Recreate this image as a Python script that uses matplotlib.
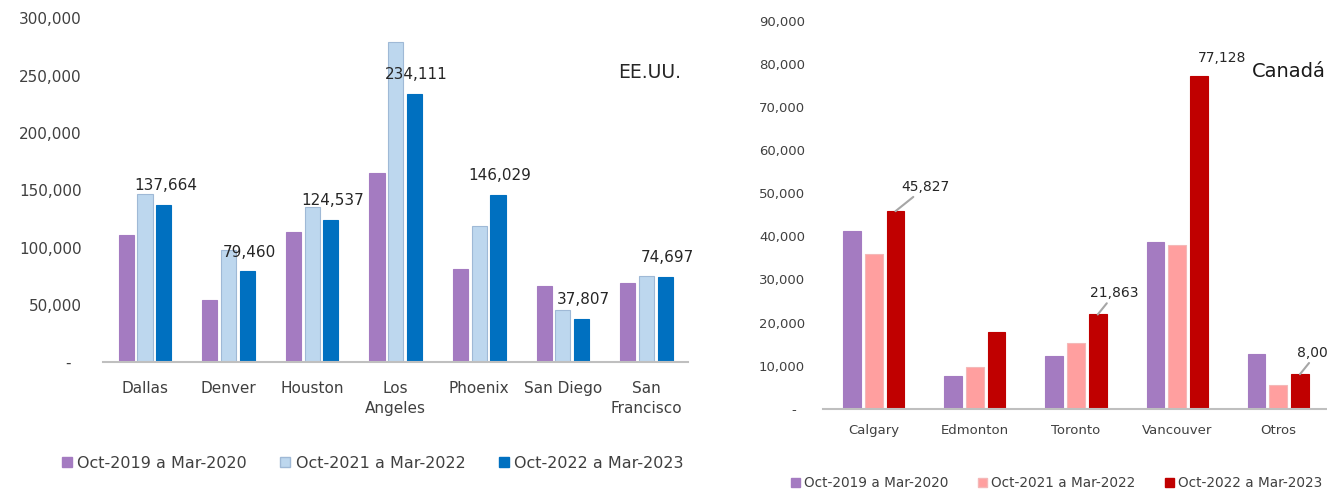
import matplotlib.pyplot as plt
import matplotlib.patches as mpatches
from matplotlib.ticker import FuncFormatter
import numpy as np

plt.rcParams['font.family'] = ['DejaVu Sans']

series = ['Oct-2019 a Mar-2020', 'Oct-2021 a Mar-2022', 'Oct-2022 a Mar-2023']

# EE.UU.
us_cities = ['Dallas', 'Denver', 'Houston', 'Los\nAngeles', 'Phoenix', 'San Diego', 'San\nFrancisco']
us_2019 = [111000, 54500, 113500, 165000, 81000, 67000, 69000]
us_2021 = [147000, 98000, 135500, 279500, 118500, 45500, 75300]
us_2022 = [137664, 79460, 124537, 234111, 146029, 37807, 74697]

# Canadá
ca_cities = ['Calgary', 'Edmonton', 'Toronto', 'Vancouver', 'Otros']
ca_2019 = [41300, 7700, 12200, 38700, 12800]
ca_2021 = [35900, 9700, 15300, 38000, 5500]
ca_2022 = [45827, 17900, 21863, 77128, 8003]

us_colors = ['#A47BC1', '#BDD7EE', '#0070C0']
ca_colors = ['#A47BC1', '#FF9F9F', '#C00000']
edge_us = ['#A47BC1', '#9FB9D6', '#0070C0']
edge_ca = ['#A47BC1', '#F4B8B8', '#C00000']

W, H = 1327, 490
fig = plt.figure(figsize=(W / 100, H / 100), dpi=100)


def fmt(v, p):
    return '-  ' if v == 0 else f'{v:,.0f}'


def style_axis(ax, tick_fs, ypad, xpad):
    for s in ['top', 'right', 'left']:
        ax.spines[s].set_visible(False)
    ax.spines['bottom'].set_color('#BFBFBF')
    ax.spines['bottom'].set_linewidth(1.5)
    ax.tick_params(axis='both', length=0, labelsize=tick_fs)
    ax.tick_params(axis='y', pad=ypad, labelcolor='#404040')
    ax.tick_params(axis='x', pad=xpad, labelcolor='#404040')
    ax.yaxis.set_major_formatter(FuncFormatter(fmt))


# ---- panel izquierdo: EE.UU.
ax1 = fig.add_axes([103.2 / W, 1 - 362.3 / H, (688.2 - 103.2) / W, (362.3 - 18.5) / H])
x = np.arange(len(us_cities))
step, bw = 0.224, 0.18
for i, vals in enumerate([us_2019, us_2021, us_2022]):
    ax1.bar(x + (i - 1) * step, vals, bw, color=us_colors[i], edgecolor=edge_us[i],
            linewidth=0.8, label=series[i])
ax1.set_xlim(-0.5, len(us_cities) - 0.5)
ax1.set_ylim(0, 300000)
ax1.set_yticks(np.arange(0, 300001, 50000))
ax1.set_xticks(x)
ax1.set_xticklabels(us_cities)
style_axis(ax1, 11, 15.5, 13.5)
for lab in ax1.get_xticklabels():
    lab.set_linespacing(1.45)

for xi, v in zip(x, us_2022):
    ax1.annotate(f'{v:,}', (xi + step, v), xytext=(1.4, 13.7), textcoords='offset points',
                 ha='center', va='center', fontsize=11, color='#262626')

fig.text(650 / W, 1 - 72 / H, 'EE.UU.', ha='center', va='center', fontsize=13.5, color='#262626')

h1 = [mpatches.Patch(facecolor=us_colors[i], edgecolor=edge_us[i], label=series[i]) for i in range(3)]
ax1.legend(handles=h1, ncol=3, loc='center left', bbox_to_anchor=(62 / W, 1 - 463 / H),
           bbox_transform=fig.transFigure, frameon=False, fontsize=11.5,
           handlelength=0.6, handleheight=0.6, handletextpad=0.35, columnspacing=2.1,
           borderpad=0, borderaxespad=0, labelcolor='#404040')

# ---- panel derecho: Canadá
ax2 = fig.add_axes([823.2 / W, 1 - 408.7 / H, (1328.8 - 823.2) / W, (408.7 - 20.8) / H])
x2 = np.arange(len(ca_cities))
step2, bw2 = 0.215, 0.175
for i, vals in enumerate([ca_2019, ca_2021, ca_2022]):
    ax2.bar(x2 + (i - 1) * step2, vals, bw2, color=ca_colors[i], edgecolor=edge_ca[i],
            linewidth=0.8, label=series[i])
ax2.set_xlim(-0.5, len(ca_cities) - 0.5)
ax2.set_ylim(0, 90000)
ax2.set_yticks(np.arange(0, 90001, 10000))
ax2.set_xticks(x2)
ax2.set_xticklabels(ca_cities)
style_axis(ax2, 9.5, 13, 10.8)

# offsets de etiquetas (puntos) y si llevan línea guía
offs = [(21.6, 17.3, True), None, (12.2, 15.1, True), (16.6, 13.0, False), (12.2, 15.1, True)]
for xi, v, o in zip(x2, ca_2022, offs):
    if o is None:
        continue
    dx, dy, line = o
    kw = dict(arrowprops=dict(arrowstyle='-', color='#A6A6A6', lw=1.5, shrinkA=0, shrinkB=0)) if line else {}
    ax2.annotate(f'{v:,}', (xi + step2, v), xytext=(dx, dy), textcoords='offset points',
                 ha='center', va='center', fontsize=10, color='#262626', annotation_clip=False, **kw)

fig.text(1252 / W, 1 - 77 / H, 'Canadá', ha='left', va='baseline', fontsize=14, color='#1a1a1a')

h2 = [mpatches.Patch(facecolor=ca_colors[i], edgecolor=edge_ca[i], label=series[i]) for i in range(3)]
ax2.legend(handles=h2, ncol=3, loc='center left', bbox_to_anchor=(791 / W, 1 - 483 / H),
           bbox_transform=fig.transFigure, frameon=False, fontsize=9.8,
           handlelength=0.65, handleheight=0.65, handletextpad=0.3, columnspacing=2.2,
           borderpad=0, borderaxespad=0, labelcolor='#404040')

fig.savefig('out.png', dpi=100)
